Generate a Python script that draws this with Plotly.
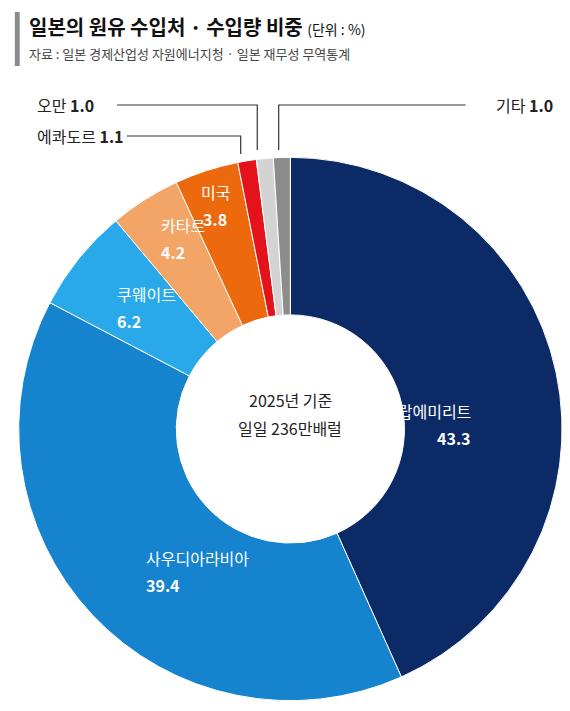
import plotly.graph_objects as go

W, H = 570, 711
PAGE_W = 555  # leave room for the browser's scrollbar

countries = ["아랍에미리트", "사우디아라비아", "쿠웨이트", "카타르", "미국", "에콰도르", "오만", "기타"]
shares = [43.3, 39.4, 6.2, 4.2, 3.8, 1.1, 1.0, 1.0]
colors = ["#0c2b66", "#1683cf", "#29a9ea", "#f3a467", "#ec6a0d", "#e3121b", "#d3d3d3", "#8c8c8c"]

FONT = "Noto Sans CJK KR"


def px(x):
    return x / W


def py(y):
    return 1 - y / H


fig = go.Figure(go.Pie(
    labels=countries,
    values=shares,
    sort=False,
    direction="clockwise",
    rotation=0,
    hole=0.42,
    marker=dict(colors=colors, line=dict(color="white", width=1)),
    textinfo="none",
    showlegend=False,
    domain=dict(x=[px(11), px(569)], y=[py(700), py(142)]),
))

ann = []


def label(x, y, name, val, color="white"):
    ann.append(dict(x=px(x), y=py(y - 13), xref="paper", yref="paper", showarrow=False,
                    yanchor="middle", text=name,
                    font=dict(family=FONT, size=16, color=color)))
    ann.append(dict(x=px(x), y=py(y + 14), xref="paper", yref="paper", showarrow=False,
                    yanchor="middle", text=f"<b>{val}</b>",
                    font=dict(family=FONT, size=16, color=color)))


label(478, 416, countries[0], shares[0])
label(140, 563, countries[1], shares[1])
label(110, 299, countries[2], shares[2])
label(155, 230, countries[3], shares[3])
label(213, 197, countries[4], shares[4])

# outside labels
for x, y, name, val, anchor in [(28, 97, countries[6], shares[6], "left"),
                                (28, 128, countries[5], shares[5], "left"),
                                (562, 97, countries[7], shares[7], "right")]:
    ann.append(dict(x=px(x), y=py(y), xref="paper", yref="paper", showarrow=False,
                    xanchor=anchor, yanchor="middle",
                    text=f"{name} <b>{val}</b>",
                    font=dict(family=FONT, size=16, color="#222")))

ann.append(dict(x=px(290), y=py(392), xref="paper", yref="paper", showarrow=False,
                text="2025년 기준", font=dict(family=FONT, size=16, color="#222")))
ann.append(dict(x=px(290), y=py(420), xref="paper", yref="paper", showarrow=False,
                text="일일 236만배럴", font=dict(family=FONT, size=16, color="#222")))

ann.append(dict(x=px(20), y=py(18), xref="paper", yref="paper", showarrow=False,
                xanchor="left", yanchor="middle",
                text="<b>일본의 원유 수입처 · 수입량 비중</b> <span style='font-size:14px'>(단위 : %)</span>",
                font=dict(family=FONT, size=20, color="#111")))
ann.append(dict(x=px(20), y=py(45), xref="paper", yref="paper", showarrow=False,
                xanchor="left", yanchor="middle",
                text="자료 : 일본 경제산업성 자원에너지청 · 일본 재무성 무역통계",
                font=dict(family=FONT, size=13, color="#444")))

line = dict(color="#333", width=1.2)
shapes = [
    dict(type="rect", xref="paper", yref="paper", x0=px(7), x1=px(12), y0=py(4), y1=py(58),
         fillcolor="#8a8a8a", line=dict(width=0)),
    dict(type="path", xref="paper", yref="paper", line=line,
         path=f"M {px(112)} {py(97)} L {px(256)} {py(97)} L {px(256)} {py(142)}"),
    dict(type="path", xref="paper", yref="paper", line=line,
         path=f"M {px(122)} {py(128)} L {px(239)} {py(128)} L {px(239)} {py(146)}"),
    dict(type="path", xref="paper", yref="paper", line=line,
         path=f"M {px(470)} {py(97)} L {px(278)} {py(97)} L {px(278)} {py(142)}"),
]

fig.update_layout(
    width=PAGE_W, height=H,
    margin=dict(l=0, r=0, t=0, b=0),
    paper_bgcolor="white",
    annotations=ann,
    shapes=shapes,
)

fig.write_html("out.html")
